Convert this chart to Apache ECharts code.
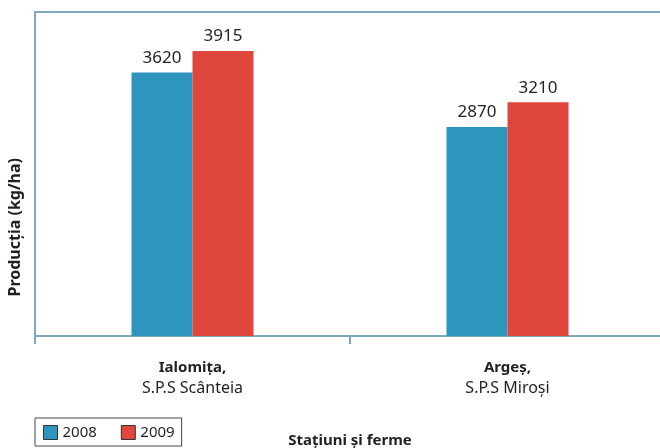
<!DOCTYPE html>
<html lang="ro">
<head>
    <meta charset="UTF-8">
    <title></title>
    <script src="https://cdn.jsdelivr.net/npm/echarts@6/dist/echarts.min.js"></script>
    <style>
        body { margin: 0; background: #fff; }
    </style>
</head>
<body>
<div id="box1" style="width: 660px;height: 448px"></div>
<script>
    var judet = ['Ialomiţa,', 'Argeş,'];
    var statiuni = ['S.P.S Scânteia', 'S.P.S Miroşi'];
    var ani = ['2008', '2009'];
    var val2008 = [3620, 2870];
    var val2009 = [3915, 3210];

    var categories = judet.map(function (j, i) {
        return j + '\n' + statiuni[i];
    });

    var lineColor = '#7fa9c2';
    var textColor = '#231f20';
    var font = 'Noto Sans';

    var mychart = echarts.init(document.getElementById('box1'));

    var option = {
        animation: false,
        textStyle: { fontFamily: font },
        grid: {
            left: 35, top: 12, width: 630, bottom: 112,
            outerBoundsMode: 'none',
            containLabel: false,
            show: true, borderColor: lineColor, borderWidth: 2, backgroundColor: 'transparent'
        },
        legend: {
            left: 35, top: 418, itemGap: 24, itemWidth: 14, itemHeight: 14,
            padding: [7, 7, 6, 8],
            borderColor: '#444', borderWidth: 1,
            icon: 'rect',
            itemStyle: { borderColor: '#333', borderWidth: 1 },
            textStyle: { fontSize: 15, color: textColor, fontFamily: font, lineHeight: 15 },
            data: ani
        },
        xAxis: {
            type: 'category',
            data: categories,
            axisLine: { lineStyle: { color: lineColor, width: 2 } },
            axisTick: { show: true, interval: 0, length: 8, lineStyle: { color: lineColor, width: 2 } },
            axisLabel: {
                margin: 22,
                formatter: function (v) {
                    var p = v.split('\n');
                    return '{b|' + p[0] + '}\n{n|' + p[1] + '}';
                },
                rich: {
                    b: { fontWeight: 'bold', fontSize: 15, color: textColor, fontFamily: font, lineHeight: 20 },
                    n: { fontSize: 16, color: textColor, fontFamily: font, lineHeight: 20 }
                }
            },
            name: 'Staţiuni şi ferme',
            nameLocation: 'middle',
            nameGap: 97,
            nameTextStyle: { fontWeight: 'bold', fontSize: 15, color: textColor, fontFamily: font }
        },
        yAxis: {
            type: 'value',
            min: 0, max: 4450,
            axisLine: { show: false },
            axisTick: { show: false },
            axisLabel: { show: false },
            splitLine: { show: false }
        },
        graphic: [{
            type: 'text',
            left: 7, top: 158,
            rotation: Math.PI / 2,
            style: {
                text: 'Producţia (kg/ha)',
                fill: textColor,
                font: 'bold 16px "Noto Sans"'
            }
        }],
        series: [{
            name: ani[0],
            type: 'bar',
            data: val2008,
            barWidth: 61,
            barGap: '0%',
            itemStyle: { color: '#2e96be' },
            label: { show: true, position: 'top', distance: 6, fontSize: 17, color: textColor, fontFamily: font }
        }, {
            name: ani[1],
            type: 'bar',
            data: val2009,
            barWidth: 61,
            barGap: '0%',
            itemStyle: { color: '#e0473c' },
            label: { show: true, position: 'top', distance: 6, fontSize: 17, color: textColor, fontFamily: font }
        }]
    };
    mychart.setOption(option);
</script>
</body>
</html>
